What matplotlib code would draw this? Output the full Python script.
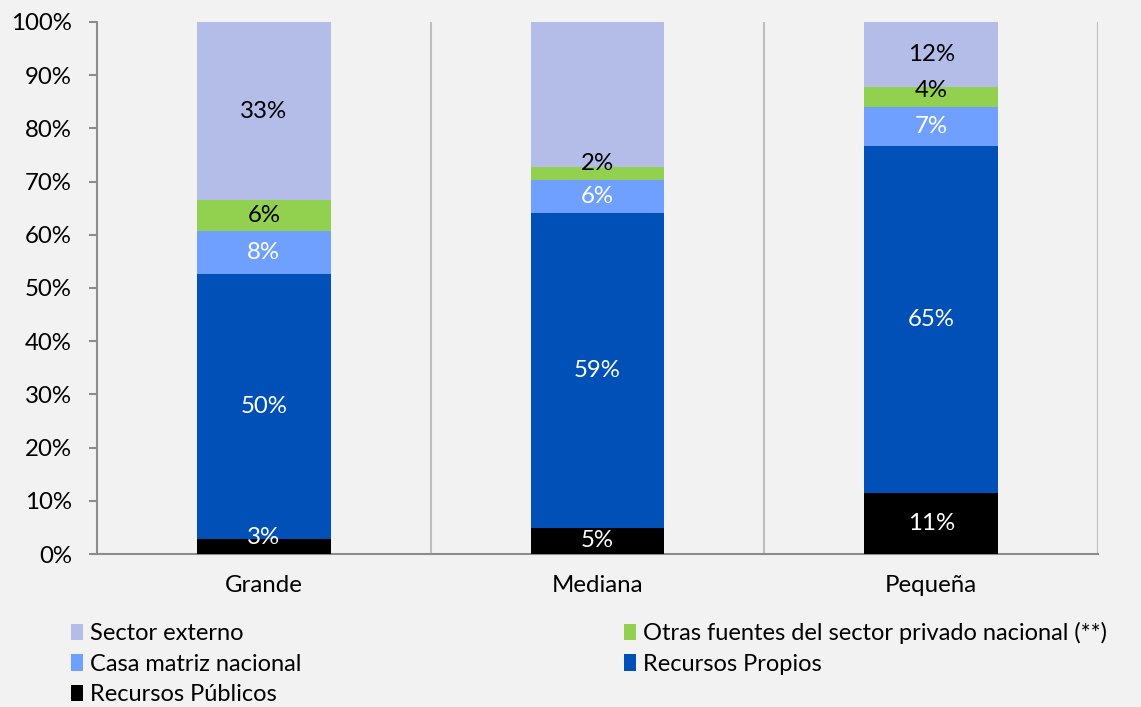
import matplotlib
matplotlib.use("Agg")
import matplotlib.pyplot as plt
import numpy as np

categories = ["Grande", "Mediana", "Pequeña"]
series_names = ["Recursos Públicos", "Recursos Propios", "Casa matriz nacional",
                "Otras fuentes del sector privado nacional (**)", "Sector externo"]
publicos = [2.8, 4.9, 11.5]
propios = [49.8, 59.2, 65.2]
casa_matriz = [8.1, 6.2, 7.3]
otras = [5.8, 2.4, 3.8]
externo = [33.5, 27.3, 12.2]
labels_publicos = ["3%", "5%", "11%"]
labels_propios = ["50%", "59%", "65%"]
labels_casa = ["8%", "6%", "7%"]
labels_otras = ["6%", "2%", "4%"]
labels_externo = ["33%", "", "12%"]
yticks = [0, 10, 20, 30, 40, 50, 60, 70, 80, 90, 100]

colors = ["#000000", "#0050B8", "#70A0FF", "#92D050", "#B4BDE8"]
text_colors = ["white", "white", "white", "black", "black"]

plt.rcParams['font.family'] = ['Lato', 'DejaVu Sans']
FS = 17.3
FS_LEG = 17.0
bg = "#F2F2F2"
fig = plt.figure(figsize=(11.41, 7.07), dpi=100, facecolor=bg)
ax = fig.add_axes([0.085, 0.2164, 0.9623 - 0.085, 0.9689 - 0.2164])
ax.set_facecolor(bg)

x = np.arange(len(categories))
data = [publicos, propios, casa_matriz, otras, externo]
labs = [labels_publicos, labels_propios, labels_casa, labels_otras, labels_externo]
bottom = np.zeros(len(categories))
handles = {}
for name, vals, col, tc, lb in zip(series_names, data, colors, text_colors, labs):
    vals = np.array(vals)
    bars = ax.bar(x, vals, 0.4, bottom=bottom, color=col, edgecolor='none', zorder=3)
    handles[name] = bars
    for i in range(len(x)):
        if lb[i]:
            yc = bottom[i] + vals[i] / 2
            if vals[i] < 4.5:
                yc = bottom[i] + 3.1
            ax.text(x[i], yc, lb[i], ha='center', va='center', color=tc,
                    fontsize=FS, zorder=4)
    bottom = bottom + vals

ax.set_xlim(-0.5, 2.5)
ax.set_ylim(0, 100)
ax.set_yticks(yticks)
ax.set_yticklabels([f"{t}%" for t in yticks])
ax.set_xticks(x)
ax.set_xticklabels(categories)
ax.tick_params(axis='x', length=0, pad=15, labelsize=FS)
ax.tick_params(axis='y', length=6, width=1.5, color='#8C8C8C', pad=12, labelsize=FS)

for gx in [0.5, 1.5, 2.5]:
    ax.axvline(gx, color='#BFBFBF', lw=1.5, zorder=1)
for s in ['top', 'right']:
    ax.spines[s].set_visible(False)
ax.spines['left'].set_color('#8C8C8C')
ax.spines['left'].set_linewidth(1.5)
ax.spines['bottom'].set_color('#8C8C8C')
ax.spines['bottom'].set_linewidth(1.5)

order = ["Sector externo", "Casa matriz nacional", "Recursos Públicos",
         "Otras fuentes del sector privado nacional (**)", "Recursos Propios"]
leg = fig.legend([handles[n] for n in order], order, ncol=2,
                 loc='upper left', bbox_to_anchor=(0.062, 0.12),
                 frameon=False, fontsize=FS_LEG, handlelength=0.5, handleheight=0.68,
                 handletextpad=0.3, columnspacing=13.7, labelspacing=0.40,
                 borderaxespad=0, borderpad=0)

fig.savefig("out.png", dpi=100, facecolor=bg)
